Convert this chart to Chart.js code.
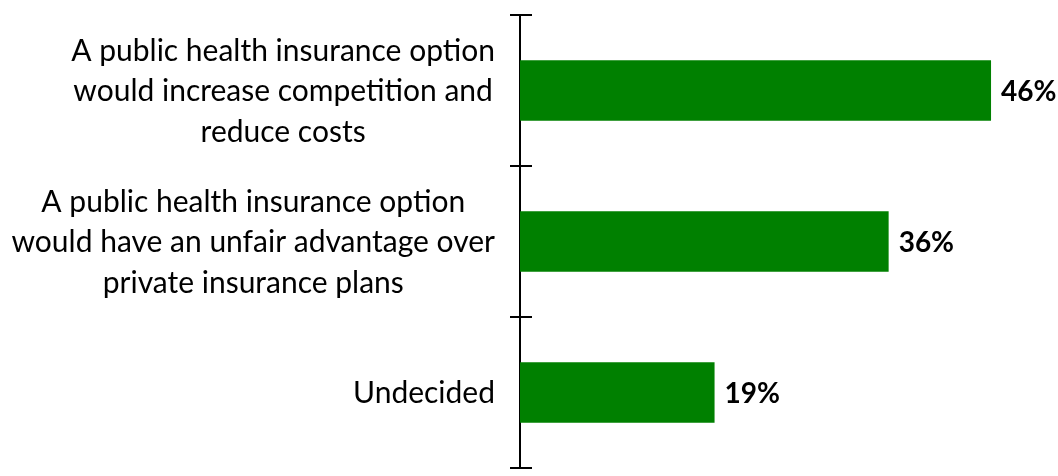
<!DOCTYPE html>
<html>
<head>
<meta charset="utf-8">
<script src="https://cdn.jsdelivr.net/npm/chart.js@4/dist/chart.umd.min.js"></script>
<style>
  html, body { margin: 0; padding: 0; background: #ffffff; }
  #wrap { width: 1058px; height: 476px; position: relative; }
</style>
</head>
<body>
<div id="wrap"><canvas id="chart"></canvas></div>
<script>
// Survey responses: categories and their shares (percent)
const categories = [
  ["A public health insurance option", "would increase competition and", "reduce costs"],
  ["A public health insurance option", "would have an unfair advantage over", "private insurance plans"],
  ["Undecided"]
];
const shares = [46, 36, 19];
const valueLabels = ["46%", "36%", "19%"];

const FONT = "Lato, 'Liberation Sans', sans-serif";
const barColor = "#008000";
const LABEL_SIZE = 30;
const LINE_STEP = 40.5;
const LABEL_GAP = 25;

// Draws the percentage just past the end of each bar
const valueLabelPlugin = {
  id: "valueLabels",
  afterDatasetsDraw(chart) {
    const ctx = chart.ctx;
    const meta = chart.getDatasetMeta(0);
    ctx.save();
    ctx.font = "bold 28px " + FONT;
    ctx.fillStyle = "#000000";
    ctx.textAlign = "left";
    ctx.textBaseline = "middle";
    meta.data.forEach((bar, i) => {
      ctx.fillText(valueLabels[i], bar.x + 10, bar.y + 1);
    });
    ctx.restore();
  }
};

// Category labels: each block is right-aligned to the axis, its lines centred within the block
const categoryLabelPlugin = {
  id: "categoryLabels",
  afterDraw(chart) {
    const y = chart.scales.y;
    const ctx = chart.ctx;
    ctx.save();
    ctx.font = LABEL_SIZE + "px " + FONT;
    ctx.fillStyle = "#000000";
    ctx.textAlign = "center";
    ctx.textBaseline = "middle";
    categories.forEach((lines, i) => {
      const cy = y.getPixelForValue(i);
      const widest = Math.max(...lines.map(l => ctx.measureText(l).width));
      const cx = y.right - LABEL_GAP - widest / 2;
      lines.forEach((line, j) => {
        ctx.fillText(line, cx, cy + 1 + (j - (lines.length - 1) / 2) * LINE_STEP);
      });
    });
    ctx.restore();
  }
};

// Short tick marks that cross the category axis at each band boundary
const crossTickPlugin = {
  id: "crossTicks",
  afterDraw(chart) {
    const y = chart.scales.y;
    const ctx = chart.ctx;
    const n = categories.length;
    const band = (y.bottom - y.top) / n;
    ctx.save();
    ctx.strokeStyle = "#000000";
    ctx.lineWidth = 2;
    for (let k = 0; k <= n; k++) {
      const py = Math.round(y.top + k * band);
      ctx.beginPath();
      ctx.moveTo(y.right - 10, py);
      ctx.lineTo(y.right + 12, py);
      ctx.stroke();
    }
    ctx.restore();
  }
};

new Chart(document.getElementById("chart"), {
  type: "bar",
  data: {
    labels: categories,
    datasets: [{
      data: shares,
      backgroundColor: barColor,
      borderWidth: 0,
      barPercentage: 0.4,
      categoryPercentage: 1.0
    }]
  },
  options: {
    indexAxis: "y",
    responsive: true,
    maintainAspectRatio: false,
    animation: false,
    layout: { padding: { top: 15, bottom: 8, right: 26, left: 0 } },
    plugins: {
      legend: { display: false },
      tooltip: { enabled: false }
    },
    scales: {
      x: {
        display: false,
        min: 0,
        max: 50
      },
      y: {
        offset: true,
        grid: { display: false, drawOnChartArea: false },
        border: { display: true, color: "#000000", width: 2 },
        ticks: { display: false },
        afterFit(scale) {
          // fixed label column on the left of the axis
          scale.width = 520;
          scale.paddingTop = 0;
          scale.paddingBottom = 0;
        }
      }
    }
  },
  plugins: [valueLabelPlugin, categoryLabelPlugin, crossTickPlugin]
});
</script>
</body>
</html>
